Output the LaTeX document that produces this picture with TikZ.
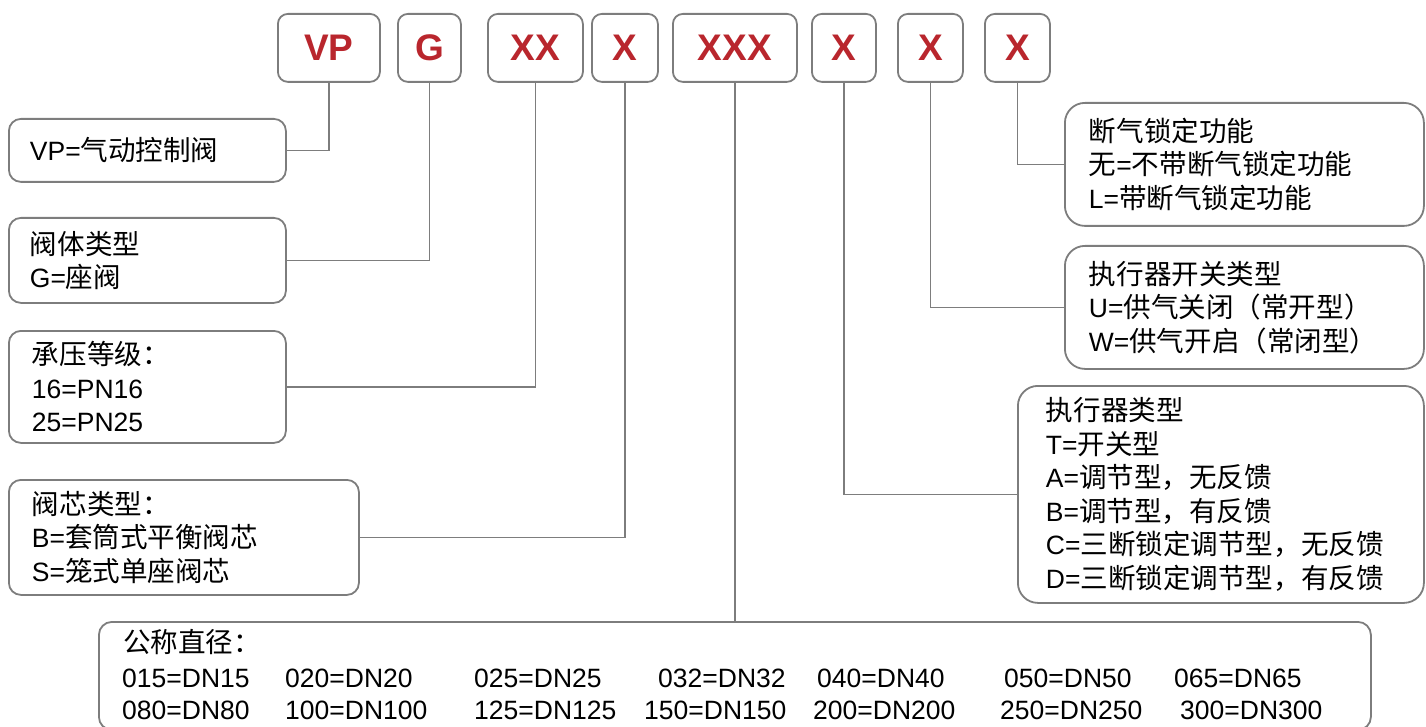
\documentclass[tikz,border=0pt]{standalone}
\usepackage{fontspec}
\setmainfont{Liberation Sans}
\newfontfamily\cjkfont{Noto Sans CJK SC}[Scale=1.04]
\newcommand\zw[1]{{\cjkfont #1}}
\definecolor{codered}{RGB}{185,38,45}
\definecolor{edgegray}{RGB}{125,125,125}
\begin{document}
\begin{tikzpicture}[x=1pt,y=-1pt,
  codebox/.style={draw=edgegray, line width=1.8pt, rounded corners=10pt,
    minimum height=68pt, inner sep=0pt, anchor=north west,
    font=\fontsize{37}{40}\selectfont\bfseries, text=codered},
  descbox/.style={draw=edgegray, line width=1.8pt, rounded corners=12pt,
    anchor=north west, inner ysep=0pt, align=left,
    font=\fontsize{26.5}{33.5}\selectfont, text=black},
  entry/.style={anchor=west, inner sep=0pt, font=\fontsize{26.5}{33.5}\selectfont},
  link/.style={draw=edgegray, line width=1.6pt}]
\useasboundingbox (0,0) rectangle (1426,727);
\clip (0,0) rectangle (1426,727);
% top code boxes
\node[codebox, minimum width=102pt] (vp)  at (277,13) {VP};
\node[codebox, minimum width=63pt]  (g)   at (397,13) {G};
\node[codebox, minimum width=95pt]  (xx)  at (487,13) {XX};
\node[codebox, minimum width=66pt]  (x1)  at (591,13) {X};
\node[codebox, minimum width=124pt] (xxx) at (672,13) {XXX};
\node[codebox, minimum width=64pt]  (x2)  at (811,13) {X};
\node[codebox, minimum width=65pt]  (x3)  at (897,13) {X};
\node[codebox, minimum width=65pt]  (x4)  at (984,13) {X};
% left description boxes
\node[descbox, inner xsep=21pt, text width=235pt, minimum height=63pt] (d1) at (8,118)
  {VP=\zw{气动控制阀}};
\node[descbox, inner xsep=21pt, text width=235pt, minimum height=85pt] (d2) at (8,217)
  {\zw{阀体类型}\\G=\zw{座阀}};
\node[descbox, inner xsep=23pt, text width=231pt, minimum height=112pt] (d3) at (8,330)
  {\zw{承压等级：}\\16=PN16\\25=PN25};
\node[descbox, inner xsep=23pt, text width=304pt, minimum height=115pt] (d4) at (8,479)
  {\zw{阀芯类型：}\\B=\zw{套筒式平衡阀芯}\\S=\zw{笼式单座阀芯}};
% right description boxes
\node[descbox, rounded corners=20pt, inner xsep=24pt, text width=311pt, minimum height=123pt] (r1) at (1064,102)
  {\zw{断气锁定功能}\\\zw{无}=\zw{不带断气锁定功能}\\L=\zw{带断气锁定功能}};
\node[descbox, rounded corners=20pt, inner xsep=24pt, text width=311pt, minimum height=123pt] (r2) at (1064,245)
  {\zw{执行器开关类型}\\U=\zw{供气关闭（常开型）}\\W=\zw{供气开启（常闭型）}};
\node[descbox, rounded corners=20pt, inner xsep=28pt, text width=350pt, minimum height=217pt] (r3) at (1017,385)
  {\zw{执行器类型}\\T=\zw{开关型}\\A=\zw{调节型，无反馈}\\B=\zw{调节型，有反馈}\\C=\zw{三断锁定调节型，无反馈}\\D=\zw{三断锁定调节型，有反馈}};
% bottom box
\node[descbox, rounded corners=13pt, inner sep=0pt, minimum width=1272pt, minimum height=108pt] (dn) at (98,621) {};
\node[entry] (t0) at (123,642) {\zw{公称直径：}};
\node[entry] (a1) at (122,678) {015=DN15};
\node[entry] (a2) at (285,678) {020=DN20};
\node[entry] (a3) at (474,678) {025=DN25};
\node[entry] (a4) at (658,678) {032=DN32};
\node[entry] (a5) at (817,678) {040=DN40};
\node[entry] (a6) at (1004,678) {050=DN50};
\node[entry] (a7) at (1174,678) {065=DN65};
\node[entry] (b1) at (122,710) {080=DN80};
\node[entry] (b2) at (285,710) {100=DN100};
\node[entry] (b3) at (474,710) {125=DN125};
\node[entry] (b4) at (644,710) {150=DN150};
\node[entry] (b5) at (813,710) {200=DN200};
\node[entry] (b6) at (1000,710) {250=DN250};
\node[entry] (b7) at (1180,710) {300=DN300};
% connectors
\draw[link] (vp.south) |- (d1.east);
\draw[link] (g.south) |- (d2.east);
\draw[link] (xx.south) |- (d3.east);
\draw[link] (x1.south) |- (d4.east);
\draw[link] (xxx.south) -- (dn.north);
\draw[link] (x2.south) |- (r3.west);
\draw[link] (x3.south) |- (r2.west);
\draw[link] (x4.south) |- (r1.west);
\end{tikzpicture}
\end{document}
